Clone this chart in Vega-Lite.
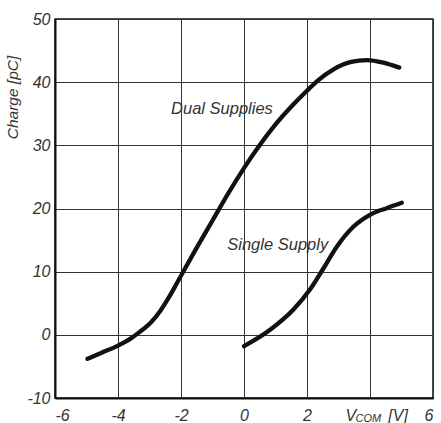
{
  "$schema": "https://vega.github.io/schema/vega-lite/v6.json",
  "width": 378,
  "height": 379,
  "autosize": "none",
  "padding": {"left": 55, "top": 19, "right": 8, "bottom": 25},
  "background": "white",
  "config": {
    "font": "Liberation Sans",
    "view": {"stroke": "#111", "strokeWidth": 1.5},
    "axis": {
      "labelFont": "Liberation Sans",
      "labelFontStyle": "italic",
      "labelFontSize": 16,
      "labelColor": "#333",
      "ticks": false,
      "domainColor": "#111",
      "domainWidth": 2,
      "gridColor": "#333",
      "gridWidth": 1,
      "gridOpacity": 1,
      "titleFont": "Liberation Sans",
      "titleFontStyle": "italic",
      "titleFontWeight": "normal",
      "titleColor": "#333"
    }
  },
  "datasets": {
    "curves": [
      {"series": "Dual Supplies", "v": -4.97, "q": -3.8},
      {"series": "Dual Supplies", "v": -4.5, "q": -2.8},
      {"series": "Dual Supplies", "v": -4.0, "q": -1.7},
      {"series": "Dual Supplies", "v": -3.6, "q": -0.6},
      {"series": "Dual Supplies", "v": -3.3, "q": 0.5},
      {"series": "Dual Supplies", "v": -2.95, "q": 2.0},
      {"series": "Dual Supplies", "v": -2.67, "q": 3.7},
      {"series": "Dual Supplies", "v": -2.4, "q": 5.8},
      {"series": "Dual Supplies", "v": -2.15, "q": 8.0},
      {"series": "Dual Supplies", "v": -1.93, "q": 10.0},
      {"series": "Dual Supplies", "v": -1.5, "q": 13.8},
      {"series": "Dual Supplies", "v": -1.0, "q": 18.1},
      {"series": "Dual Supplies", "v": -0.5, "q": 22.4},
      {"series": "Dual Supplies", "v": 0.0, "q": 26.4},
      {"series": "Dual Supplies", "v": 0.45, "q": 29.7},
      {"series": "Dual Supplies", "v": 0.95, "q": 33.0},
      {"series": "Dual Supplies", "v": 1.46, "q": 35.9},
      {"series": "Dual Supplies", "v": 1.99, "q": 38.6},
      {"series": "Dual Supplies", "v": 2.35, "q": 40.3},
      {"series": "Dual Supplies", "v": 2.83, "q": 42.0},
      {"series": "Dual Supplies", "v": 3.4, "q": 43.2},
      {"series": "Dual Supplies", "v": 3.9, "q": 43.5},
      {"series": "Dual Supplies", "v": 4.42, "q": 43.1},
      {"series": "Dual Supplies", "v": 4.93, "q": 42.3},
      {"series": "Single Supply", "v": 0.0, "q": -1.8},
      {"series": "Single Supply", "v": 0.83, "q": 0.8},
      {"series": "Single Supply", "v": 1.57, "q": 4.0},
      {"series": "Single Supply", "v": 2.1, "q": 7.2},
      {"series": "Single Supply", "v": 2.52, "q": 10.5},
      {"series": "Single Supply", "v": 2.94, "q": 13.9},
      {"series": "Single Supply", "v": 3.47, "q": 17.1},
      {"series": "Single Supply", "v": 4.0, "q": 19.0},
      {"series": "Single Supply", "v": 4.53, "q": 20.05},
      {"series": "Single Supply", "v": 5.01, "q": 20.9}
    ],
    "labels": [
      {"text": "Dual Supplies", "v": -0.7, "q": 35.8},
      {"text": "Single Supply", "v": 1.07, "q": 14.3}
    ],
    "xtitle": [
      {"part": "V", "v": 3.22, "q": -10},
      {"part": "COM", "v": 3.54, "q": -10},
      {"part": "[V]", "v": 4.58, "q": -10}
    ]
  },
  "layer": [
    {
      "data": {"name": "curves"},
      "mark": {"type": "line", "color": "#111", "strokeWidth": 4.3, "strokeCap": "round", "interpolate": "monotone"},
      "encoding": {
        "x": {
          "field": "v", "type": "quantitative",
          "scale": {"domain": [-6, 6], "nice": false},
          "axis": {
            "values": [-6, -4, -2, 0, 2, 4, 6],
            "labelExpr": "datum.value == 4 ? '' : '' + datum.value",
            "labelPadding": 9,
            "title": null
          }
        },
        "y": {
          "field": "q", "type": "quantitative",
          "scale": {"domain": [-10, 50], "nice": false},
          "axis": {
            "values": [-10, 0, 10, 20, 30, 40, 50],
            "labelExpr": "'' + datum.value",
            "labelPadding": 5,
            "title": "Charge [pC]",
            "titleFontSize": 15.5,
            "titleX": -43,
            "titleY": 78,
            "titleAngle": -90,
            "titleAlign": "center",
            "titleBaseline": "middle"
          }
        },
        "detail": {"field": "series"}
      }
    },
    {
      "data": {"name": "labels"},
      "mark": {"type": "text", "font": "Liberation Sans", "fontStyle": "italic", "fontSize": 16.5, "color": "#333", "align": "center", "baseline": "middle"},
      "encoding": {
        "x": {"field": "v", "type": "quantitative"},
        "y": {"field": "q", "type": "quantitative"},
        "text": {"field": "text"}
      }
    },
    {
      "data": {"name": "xtitle"},
      "transform": [{"filter": "datum.part != 'COM'"}],
      "mark": {"type": "text", "font": "Liberation Sans", "fontStyle": "italic", "fontSize": 16, "color": "#333", "align": "left", "baseline": "middle", "dy": 18},
      "encoding": {
        "x": {"field": "v", "type": "quantitative"},
        "y": {"field": "q", "type": "quantitative"},
        "text": {"field": "part"}
      }
    },
    {
      "data": {"name": "xtitle"},
      "transform": [{"filter": "datum.part == 'COM'"}],
      "mark": {"type": "text", "font": "Liberation Sans", "fontStyle": "italic", "fontSize": 11, "color": "#333", "align": "left", "baseline": "middle", "dy": 21},
      "encoding": {
        "x": {"field": "v", "type": "quantitative"},
        "y": {"field": "q", "type": "quantitative"},
        "text": {"field": "part"}
      }
    }
  ]
}
